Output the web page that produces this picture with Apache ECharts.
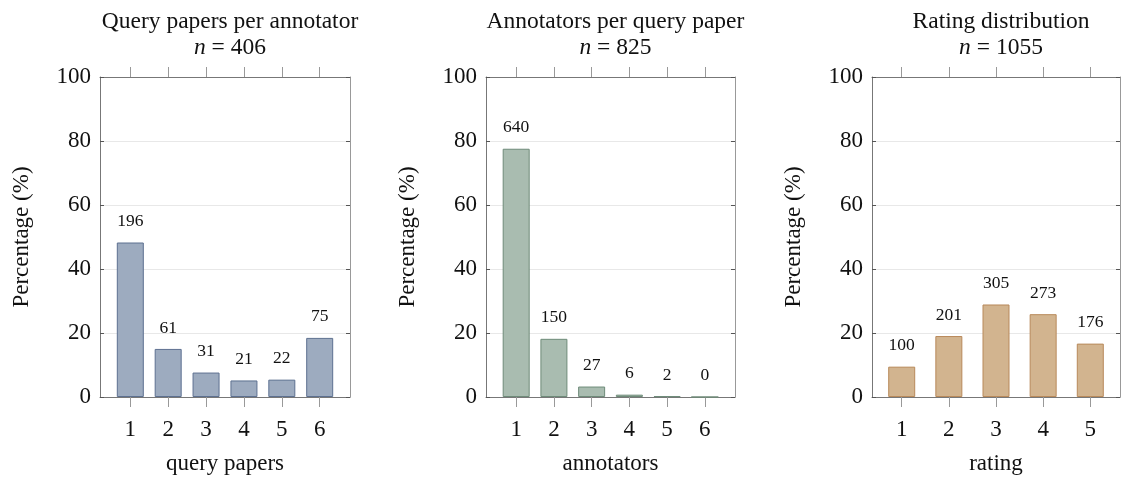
<!DOCTYPE html>
<html>
<head>
<meta charset="utf-8">
<script src="https://cdn.jsdelivr.net/npm/echarts@6/dist/echarts.min.js"></script>
<style>
  html, body { margin: 0; padding: 0; background: #fff; }
  #chart { width: 1121px; height: 477px; }
</style>
</head>
<body>
<div id="chart"></div>
<script>
// data
const paperCats = [1, 2, 3, 4, 5, 6];
const paperCounts = [196, 61, 31, 21, 22, 75];
const paperPct = [48.28, 15.02, 7.64, 5.17, 5.42, 18.47];

const annotCats = [1, 2, 3, 4, 5, 6];
const annotCounts = [640, 150, 27, 6, 2, 0];
const annotPct = [77.58, 18.18, 3.27, 0.73, 0.24, 0];

const ratingCats = [1, 2, 3, 4, 5];
const ratingCounts = [100, 201, 305, 273, 176];
const ratingPct = [9.48, 19.05, 28.91, 25.88, 16.68];

const FONT = '"Liberation Serif", "DejaVu Serif", serif';
const PLOT_TOP = 77;
const PLOT_H = 320;

const panels = [
  { title: 'Query papers per annotator', n: 406, xname: 'query papers',
    cats: paperCats, counts: paperCounts, pct: paperPct,
    left: 100, width: 250, xmin: 0.2, xmax: 6.8,
    fill: '#9dabbf', border: '#5d7090' },
  { title: 'Annotators per query paper', n: 825, xname: 'annotators',
    cats: annotCats, counts: annotCounts, pct: annotPct,
    left: 486, width: 249, xmin: 0.2, xmax: 6.8,
    fill: '#a9bcb0', border: '#6e8b79' },
  { title: 'Rating distribution', n: 1055, xname: 'rating',
    cats: ratingCats, counts: ratingCounts, pct: ratingPct,
    left: 872, width: 248, xmin: 0.37, xmax: 5.63,
    fill: '#d2b48f', border: '#b8895a' }
];

const chart = echarts.init(document.getElementById('chart'));

const option = {
  backgroundColor: '#fff',
  animation: false,
  title: [], grid: [], xAxis: [], yAxis: [], series: []
};

const lineStyle = { color: '#777', width: 1 };

panels.forEach((p, i) => {
  option.title.push({
    text: p.title + '\n{it|n} = ' + p.n,
    left: p.left + p.width / 2,
    top: 4,
    textAlign: 'center',
    textStyle: {
      fontFamily: FONT, fontSize: 23.5, fontWeight: 'normal', color: '#111',
      lineHeight: 26,
      rich: {
        it: { fontFamily: FONT, fontStyle: 'italic', fontSize: 23.5, color: '#111' }
      }
    }
  });

  option.grid.push({ left: p.left, width: p.width, top: PLOT_TOP, height: PLOT_H,
                     containLabel: false, outerBoundsMode: 'none' });

  // bottom x axis: labels + name
  option.xAxis.push({
    type: 'value', gridIndex: i, position: 'bottom',
    min: p.xmin, max: p.xmax,
    name: p.xname, nameLocation: 'middle', nameGap: 55,
    nameTextStyle: { fontFamily: FONT, fontSize: 23, color: '#111' },
    axisLine: { show: true, onZero: false, lineStyle: lineStyle },
    axisTick: { show: false },
    axisLabel: { customValues: p.cats, margin: 21,
                 fontFamily: FONT, fontSize: 23, color: '#111' },
    splitLine: { show: false }
  });
  // top x axis (ticks only, pointing up)
  option.xAxis.push({
    type: 'value', gridIndex: i, position: 'top',
    min: p.xmin, max: p.xmax,
    axisLine: { show: true, onZero: false, lineStyle: lineStyle },
    axisTick: { show: true, inside: false, length: 10, customValues: p.cats,
                lineStyle: { color: '#999' } },
    axisLabel: { show: false },
    splitLine: { show: false }
  });

  // left y axis
  option.yAxis.push({
    type: 'value', gridIndex: i, position: 'left',
    min: 0, max: 100, interval: 20,
    name: 'Percentage (%)', nameLocation: 'middle', nameGap: 67, nameRotate: 90,
    nameTextStyle: { fontFamily: FONT, fontSize: 23, color: '#111' },
    axisLine: { show: true, onZero: false, lineStyle: lineStyle },
    axisTick: { show: true, inside: true, length: 4, lineStyle: { color: '#555' } },
    axisLabel: { margin: 9, fontFamily: FONT, fontSize: 23, color: '#111' },
    splitLine: { show: true, lineStyle: { color: '#e8e8e8', width: 1 } }
  });
  // right y axis (ticks only)
  option.yAxis.push({
    type: 'value', gridIndex: i, position: 'right',
    min: 0, max: 100, interval: 20,
    axisLine: { show: true, onZero: false, lineStyle: { color: '#999', width: 1 } },
    axisTick: { show: true, inside: true, length: 4, lineStyle: { color: '#555' } },
    axisLabel: { show: false },
    splitLine: { show: false }
  });

  option.series.push({
    type: 'bar',
    xAxisIndex: i * 2,
    yAxisIndex: i * 2,
    barWidth: 27,
    data: p.cats.map((c, k) => [c, p.pct[k]]),
    itemStyle: { color: p.fill, borderColor: p.border, borderWidth: 1 },
    label: {
      show: true, position: 'top', distance: 12,
      fontFamily: FONT, fontSize: 17.5, color: '#111',
      formatter: params => String(p.counts[params.dataIndex])
    }
  });
});

// thin strip grids just below each frame, carrying the downward bottom ticks
panels.forEach((p, i) => {
  const g = panels.length + i;
  option.grid.push({ left: p.left, width: p.width, top: PLOT_TOP + PLOT_H, height: 12,
                     containLabel: false, outerBoundsMode: 'none' });
  option.xAxis.push({
    type: 'value', gridIndex: g, position: 'top',
    min: p.xmin, max: p.xmax,
    axisLine: { show: false, onZero: false },
    axisTick: { show: true, inside: true, length: 10, customValues: p.cats,
                lineStyle: { color: '#999' } },
    axisLabel: { show: false },
    splitLine: { show: false }
  });
  option.yAxis.push({
    type: 'value', gridIndex: g, min: 0, max: 1, show: false
  });
});

chart.setOption(option);
</script>
</body>
</html>
